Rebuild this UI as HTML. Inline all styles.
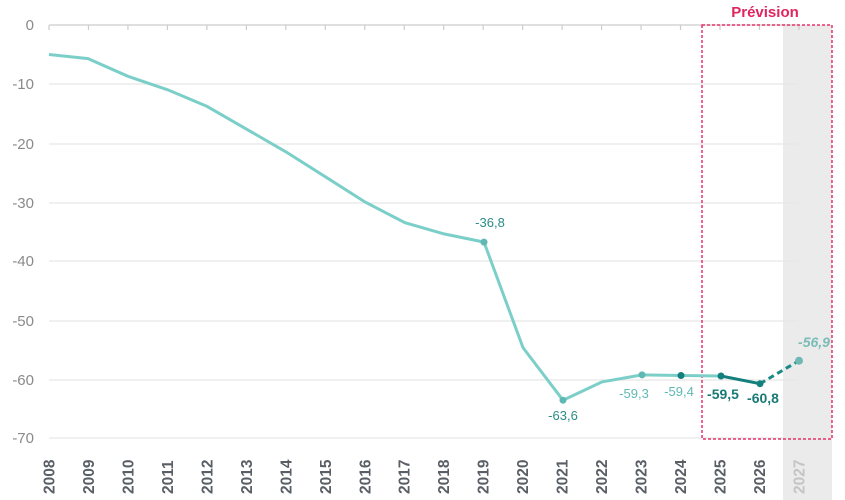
<!DOCTYPE html>
<html><head><meta charset="utf-8"><style>body{margin:0;background:#fff}svg{display:block}</style></head><body>
<svg width="845" height="500" xmlns="http://www.w3.org/2000/svg" font-family="Liberation Sans, sans-serif">
<rect x="783" y="25" width="49" height="475" fill="#ebebeb"/>
<g stroke="#e6e6e6" stroke-width="1.2">
<line x1="49" x2="798" y1="84" y2="84"/><line x1="49" x2="798" y1="144" y2="144"/><line x1="49" x2="798" y1="203" y2="203"/><line x1="49" x2="798" y1="261" y2="261"/><line x1="49" x2="798" y1="321" y2="321"/><line x1="49" x2="798" y1="380" y2="380"/><line x1="49" x2="798" y1="438" y2="438"/>
</g>
<line x1="49" x2="798" y1="25" y2="25" stroke="#ccc" stroke-width="1.2"/>
<g stroke="#ccc" stroke-width="1.2" id="ticks"></g>
<g font-size="15" fill="#8a8a8a" text-anchor="end">
<text x="34" y="30">0</text><text x="34" y="89">-10</text><text x="34" y="149">-20</text><text x="34" y="208">-30</text><text x="34" y="266">-40</text><text x="34" y="326">-50</text><text x="34" y="385">-60</text><text x="34" y="443">-70</text>
</g>
<g id="xl" font-size="15.5" font-weight="bold" fill="#5a5f66"></g>
<rect x="702" y="25" width="130" height="414" fill="none" stroke="#e8336b" stroke-width="1.5" stroke-dasharray="3,2"/>
<text x="765" y="17" font-size="15" font-weight="bold" fill="#e0245e" text-anchor="middle">Prévision</text>
<polyline fill="none" stroke="#7ccfc9" stroke-width="3" points="49,54.5 88,58.6 128,76.3 168,89.9 207,106.4 247,129.4 286,151.9 326,177.2 365,202 405,222.7 444,233.9 484,242.1 523,347.7 563,400.2 602,381.9 642,374.9 681,375.5 721,376"/>
<polyline fill="none" stroke="#13807c" stroke-width="3" points="721,376 760,383.7"/>
<line x1="760" y1="383.7" x2="799" y2="360.7" stroke="#1a8a85" stroke-width="3" stroke-dasharray="6,4"/>
<circle cx="484" cy="242.1" r="3.5" fill="#5fb8b2"/><circle cx="563" cy="400.2" r="3.5" fill="#5fb8b2"/><circle cx="642" cy="374.9" r="3.5" fill="#5fb8b2"/>
<circle cx="681" cy="375.5" r="3.5" fill="#13807c"/><circle cx="721" cy="376" r="3.5" fill="#13807c"/><circle cx="760" cy="383.7" r="3.5" fill="#13807c"/><circle cx="799" cy="360.7" r="4" fill="#6fb9b4"/>
<g font-size="13" text-anchor="middle">
<text x="490" y="227" fill="#2a8c87">-36,8</text>
<text x="563" y="420" fill="#2a8c87">-63,6</text>
<text x="634" y="398" fill="#5fb8b2">-59,3</text>
<text x="679" y="396" fill="#5fb8b2">-59,4</text>
<text x="723" y="399" fill="#1a7a76" font-weight="bold" font-size="14">-59,5</text>
<text x="763" y="403" fill="#1a7a76" font-weight="bold" font-size="14">-60,8</text>
<text x="814" y="347" fill="#7bbcb8" font-style="italic" font-weight="bold" font-size="14">-56,9</text>
</g>
<script>
var t=document.getElementById('ticks'),xl=document.getElementById('xl'),ns='http://www.w3.org/2000/svg';
for(var i=0;i<20;i++){var x=49+i*39.47;
var l=document.createElementNS(ns,'line');l.setAttribute('x1',x);l.setAttribute('x2',x);l.setAttribute('y1',25);l.setAttribute('y2',30);t.appendChild(l);
var tx=document.createElementNS(ns,'text');tx.setAttribute('transform','translate('+(x+5.5)+',494) rotate(-90)');tx.textContent=2008+i;if(i==19)tx.setAttribute('fill','#c4c4c4');xl.appendChild(tx);}
</script>
</svg>
</body></html>
